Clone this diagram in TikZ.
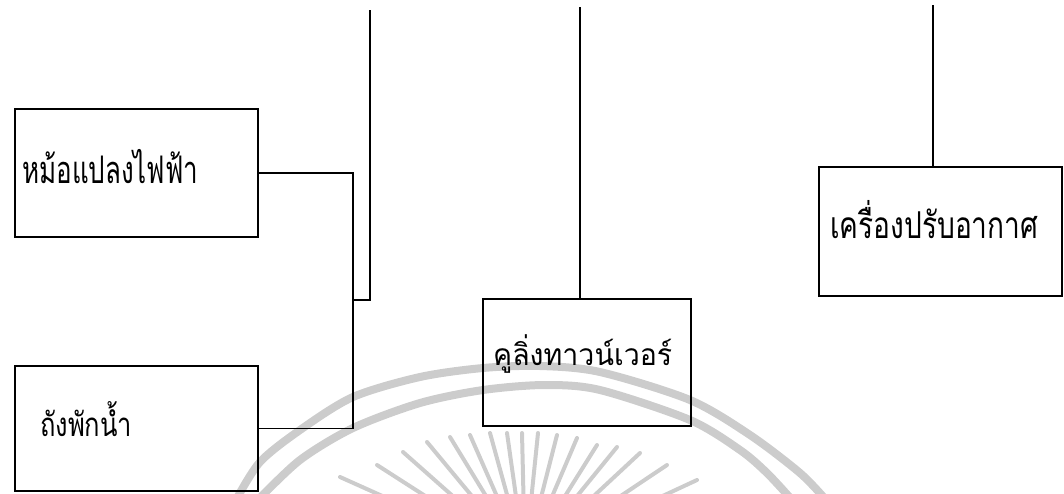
\documentclass[tikz,border=0pt]{standalone}
\usepackage{fontspec}
\usepackage{graphicx}
\usetikzlibrary{calc}
\newfontfamily\thaifont[Script=Thai]{Loma}
\newcommand\fitw[2]{\resizebox{#1}{\height}{#2}}
\tikzset{
  box/.style={draw=black, line width=1.4pt, rectangle, inner sep=0pt},
  lbl/.style={anchor=base west, inner sep=0pt, font=\thaifont},
  wire/.style={draw=black, line width=1.3pt},
  wmark/.style={draw=black!20, line width=8pt},
  wray/.style={draw=black!20, line width=4pt, line cap=round},
}
\begin{document}
\begin{tikzpicture}[x=1pt,y=-1pt]
\useasboundingbox (0,0) rectangle (1064,493);
% faint watermark
\begin{scope}
\clip (0,0) rectangle (1064,493);
\draw[wmark] plot[smooth] coordinates {(236,500) (260,462) (300,430) (353,397) (420,377) (483,368) (540,366) (600,372) (690,400) (750,435) (800,473) (826,500)};
\draw[wmark] plot[smooth] coordinates {(258,500) (300,460) (353,428) (420,403) (483,390) (545,385) (600,390) (690,420) (740,450) (767,473) (792,500)};
\foreach \tx/\ty in {377/465,403/452,427/442,450/437,470/435,490/433,507/433,522/433,538/433,557/435,577/438,597/445,617/447,640/453,667/465,697/480,340/477}{
  \draw[wray] (\tx,\ty) -- ($(\tx,\ty)!0.75!(525,560)$);
}
\end{scope}
% boxes
\node[box, minimum width=243pt, minimum height=128pt] (b1) at (136.5,173) {};
\node[box, minimum width=243pt, minimum height=125pt] (b2) at (136.5,428.5) {};
\node[box, minimum width=208pt, minimum height=127pt] (b3) at (587,362.5) {};
\node[box, minimum width=243pt, minimum height=129pt] (b4) at (940.5,231.5) {};
% labels
\node[lbl] (t1) at (22,183) {\fontsize{38}{40}\selectfont\fitw{176pt}{หม้อแปลงไฟฟ้า}};
\node[lbl] (t2) at (40,436) {\fontsize{33}{35}\selectfont\fitw{92pt}{ถังพักน้ำ}};
\node[lbl] (t3) at (493,365) {\fontsize{30}{32}\selectfont\fitw{179pt}{คูลิ่งทาวน์เวอร์}};
\node[lbl] (t4) at (830,238) {\fontsize{37}{39}\selectfont\fitw{208pt}{เครื่องปรับอากาศ}};
% connectors
\coordinate (bus) at (353,300);
\coordinate (top1) at (370,10);
\coordinate (top2) at (580,7);
\coordinate (top3) at (933,5);
\draw[wire] (b1.east) -| (bus) |- (b2.east);
\draw[wire] (bus) -| (top1);
\draw[wire] (top2) -- (top2 |- b3.north);
\draw[wire] (top3) -- (top3 |- b4.north);
\end{tikzpicture}
\end{document}
